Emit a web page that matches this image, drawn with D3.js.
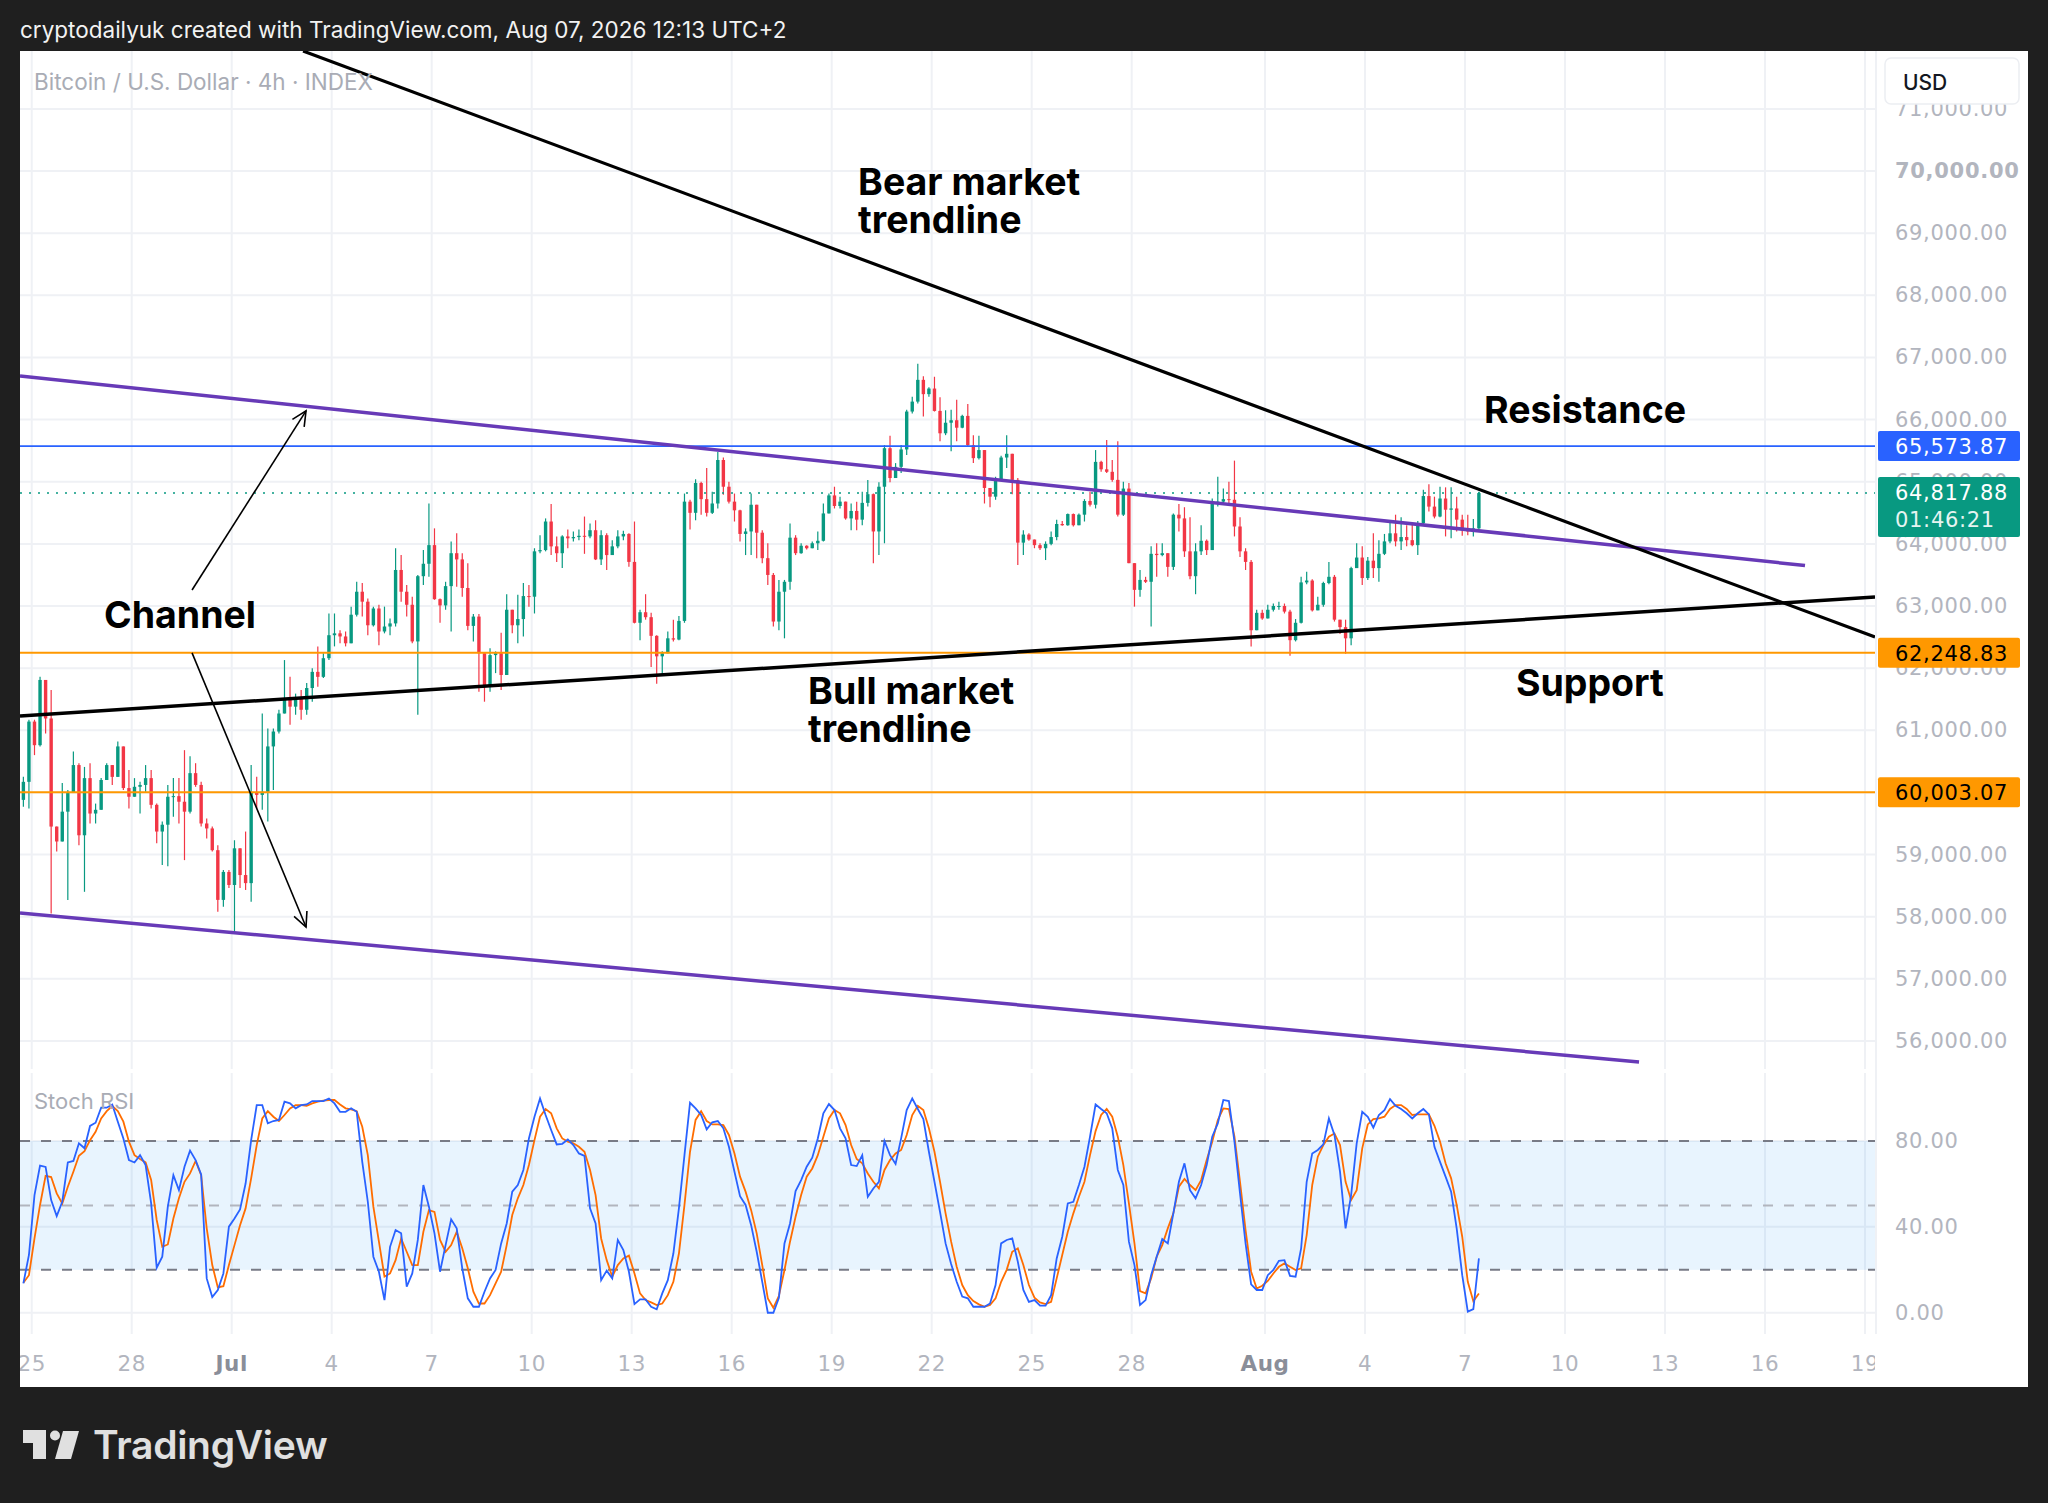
<!DOCTYPE html>
<html>
<head>
<meta charset="utf-8">
<script src="https://cdn.jsdelivr.net/npm/d3@7"></script>
<style>
  body { margin: 0; background: #1f1f1f; }
  svg { display: block; }
</style>
</head>
<body>
<svg id="chart" width="2048" height="1503"></svg>
<script>
// ---- data (4h candles, BTC/USD index) ----
var firstCandle = "2026-06-24T18:00";   // time of first bar, bars every 4 hours
var firstOpen = 59880;
var closes = [
  60170, 61140, 60760, 61810, 61190, 59450, 59210, 59690, 59990, 60440,
  59310, 60230, 59660, 59720, 60200, 60440, 60250, 60740, 60070, 59930,
  60090, 60120, 60230, 59800, 59370, 59480, 59930, 59940, 59850, 59690,
  60310, 60120, 59500, 59420, 59070, 58270, 58720, 58510, 59100, 58670,
  58540, 59990, 59960, 60010, 60740, 60980, 61270, 61490, 61380, 61510,
  61330, 61680, 61940, 61860, 62160, 62530, 62560, 62510, 62400, 62860,
  63230, 63070, 62690, 62960, 62590, 62670, 62720, 63580, 63230, 63020,
  62430, 63480, 63680, 63980, 63110, 63010, 63320, 63850, 63750, 63290,
  62680, 62830, 62240, 61700, 62210, 62240, 61890, 62940, 62690, 62790,
  63160, 63150, 63880, 63900, 64360, 63960, 63850, 64120, 64090, 64110,
  64130, 64120, 64220, 63750, 64140, 63820, 63960, 64120, 64160, 63710,
  62730, 62900, 62820, 62520, 62190, 62240, 62480, 62460, 62760, 64680,
  64500, 64980, 64720, 64500, 64650, 65350, 64920, 64680, 64540, 64160,
  64200, 64630, 64180, 63770, 63500, 62750, 63230, 63390, 64100, 63850,
  63970, 63930, 64010, 64050, 64490, 64780, 64610, 64680, 64410, 64530,
  64390, 64660, 64800, 64200, 64920, 65540, 65060, 65240, 65520, 66130,
  66290, 66640, 66410, 66500, 66140, 65780, 65950, 65990, 65870, 66060,
  65590, 65380, 65510, 64900, 64760, 65030, 65390, 65450, 65030, 64020,
  64150, 64070, 63980, 63930, 64000, 64110, 64320, 64300, 64480, 64300,
  64470, 64690, 64630, 65320, 65200, 65160, 65030, 64470, 64890, 63690,
  63260, 63420, 63390, 63840, 63820, 63850, 63630, 64470, 64410, 63880,
  63480, 63880, 64050, 63900, 64650, 64680, 64720, 64710, 64280, 63880,
  63710, 62610, 62890, 62800, 62940, 63000, 63000, 62910, 62450, 62730,
  63380, 63410, 62930, 63020, 63370, 63470, 62780, 62660, 62480, 63610,
  63780, 63450, 63730, 63610, 63840, 64040, 64170, 64040, 64110, 64060,
  63980, 64330, 64770, 64600, 64440, 64730, 64550, 64570, 64390, 64220,
  64200, 64250, 64817.88
];
var highs = [
  60250, 61170, 61170, 61860, 61810, 61650, 59450, 60150, 60040, 60660,
  60470, 60410, 60470, 59820, 60230, 60470, 60440, 60820, 60740, 60360,
  60230, 60170, 60440, 60360, 59820, 59530, 60120, 60230, 60230, 60680,
  60580, 60470, 60170, 59580, 59450, 59150, 58750, 58750, 59230, 59100,
  59370, 60440, 60250, 61270, 61030, 61030, 61330, 62130, 61860, 61590,
  61650, 61760, 62000, 62350, 62240, 62880, 62880, 62610, 62590, 62990,
  63390, 63370, 63120, 62990, 63020, 62990, 62800, 63930, 63820, 63340,
  63150, 63500, 63900, 64650, 64250, 63120, 63390, 64040, 64170, 63850,
  63690, 62870, 62870, 62240, 62320, 62270, 62570, 63190, 62940, 63180,
  63370, 63340, 63930, 64140, 64410, 64640, 64120, 64140, 64230, 64200,
  64230, 64440, 64330, 64380, 64220, 64170, 64060, 64220, 64210, 64170,
  64360, 62940, 63190, 62890, 62530, 62270, 62590, 62780, 62840, 64810,
  64710, 65040, 65000, 65220, 64840, 65480, 65390, 65000, 64810, 64550,
  64250, 64810, 64630, 64220, 64010, 63530, 63420, 63420, 64330, 64140,
  64010, 63980, 64040, 64200, 64650, 64810, 64920, 64760, 64680, 64650,
  64680, 64840, 65030, 64810, 64990, 65590, 65740, 65300, 65590, 66160,
  66370, 66900, 66700, 66520, 66690, 66360, 66150, 66160, 66320, 66080,
  66250, 65750, 65740, 65510, 64900, 65080, 65420, 65750, 65450, 65060,
  64220, 64170, 64060, 64010, 64040, 64200, 64390, 64370, 64490, 64490,
  64490, 64720, 64840, 65510, 65340, 65670, 65350, 65650, 65000, 64980,
  63690, 63580, 63470, 63960, 64010, 64010, 63850, 64490, 64640, 64590,
  64430, 64010, 64300, 64070, 64730, 65080, 64890, 65000, 65340, 64430,
  63930, 63740, 62940, 62940, 63020, 63040, 63070, 63040, 62940, 62790,
  63470, 63550, 63430, 63150, 63390, 63710, 63500, 62760, 62780, 63630,
  64010, 63960, 63790, 64170, 64060, 64160, 64340, 64470, 64430, 64300,
  64330, 64370, 64870, 64960, 64760, 64920, 64910, 64910, 64760, 64470,
  64470, 64400, 64840
];
var lows = [
  59770, 59740, 60600, 60740, 60950, 58050, 59050, 59210, 58270, 59990,
  59150, 58400, 59500, 59500, 59770, 60200, 60120, 60250, 60040, 59740,
  59930, 59660, 60010, 59740, 59180, 58830, 58810, 59610, 59500, 58910,
  59660, 60090, 59450, 59260, 59050, 58080, 58160, 58460, 57760, 58460,
  58430, 58240, 59740, 59720, 59530, 60040, 60950, 61270, 61090, 61250,
  61170, 61250, 61460, 61700, 61840, 62130, 62350, 62400, 62350, 62400,
  62830, 62830, 62530, 62670, 62370, 62560, 62530, 62670, 63070, 62830,
  62400, 61250, 63340, 63470, 63100, 62730, 62940, 62590, 63310, 63150,
  62610, 62430, 61620, 61460, 61620, 61920, 61650, 61890, 62560, 62400,
  62510, 62990, 62880, 63850, 63880, 63820, 63710, 63610, 63930, 64040,
  64060, 63840, 64090, 63740, 63660, 63580, 63820, 63930, 64060, 63630,
  62720, 62450, 62780, 62020, 61750, 61890, 62240, 62430, 62450, 62730,
  64230, 64380, 64470, 64440, 64480, 64570, 64790, 64650, 64360, 64040,
  63820, 63820, 63770, 63690, 63340, 62670, 62610, 62480, 63260, 63820,
  63840, 63910, 63950, 63900, 64040, 64490, 64570, 64570, 64390, 64220,
  64220, 64300, 64600, 63690, 63820, 64010, 64990, 65080, 65140, 65430,
  66100, 66260, 66050, 66370, 66130, 65650, 65750, 65490, 65650, 65860,
  65570, 65300, 65360, 64650, 64590, 64710, 65030, 65220, 64800, 63660,
  63820, 64050, 63930, 63900, 63740, 63980, 64060, 64290, 64290, 64280,
  64300, 64360, 64600, 64570, 65160, 65140, 65000, 64440, 64450, 63690,
  62990, 63150, 63370, 62670, 63470, 63800, 63470, 63580, 64200, 63790,
  63430, 63190, 63820, 63820, 63900, 64600, 64630, 64630, 64120, 63790,
  63580, 62350, 62630, 62780, 62800, 62910, 62940, 62880, 62200, 62430,
  62720, 63350, 62910, 62940, 62990, 63350, 62750, 62550, 62230, 62370,
  63610, 63340, 63420, 63450, 63390, 63820, 64010, 63960, 63900, 63960,
  63960, 63820, 64300, 64520, 64410, 64430, 64120, 64090, 64200, 64130,
  64140, 64120, 64220
];
// Stoch RSI %K (blue) and %D (orange), one value per bar
var stochK = [
  13.7, 26.9, 54.8, 68.5, 67.9, 52.5, 45.0, 51.7, 70.0, 70.7, 78.9, 76.6,
  87.0, 88.5, 95.5, 95.5, 97.0, 89.0, 81.2, 71.1, 70.0, 73.4,
  68.8, 50.9, 21.0, 26.1, 49.4, 64.1, 57.1, 68.0, 75.5, 71.1,
  64.4, 16.0, 7.3, 10.6, 18.3, 40.1, 43.9, 48.1, 60.2, 80.4,
  96.7, 96.7, 88.2, 89.3, 89.8, 98.3, 97.5, 95.2, 96.7, 97.0,
  98.6, 98.6, 98.6, 99.8, 97.5, 93.6, 93.6, 95.2, 93.6, 70.3,
  51.7, 26.1, 19.1, 5.9, 30.7, 38.5, 37.0, 12.1, 18.3, 33.9,
  59.5, 49.4, 37.0, 19.1, 31.5, 43.5, 39.3, 20.7, 6.7, 2.8,
  2.8, 9.8, 16.0, 19.9, 32.3, 41.6, 56.4, 59.5,
  66.5, 81.2, 91.3, 99.8, 92.1, 85.1, 78.4, 78.7, 80.7, 78.1, 74.2, 73.1,
  48.6, 41.6, 15.2, 19.6, 16.0, 33.9, 29.2, 19.1, 4.0, 6.2,
  6.2, 2.8, 1.6, 9.0, 15.2, 27.6, 48.6, 73.4, 97.8, 95.2,
  92.1, 85.4, 88.7, 89.3, 85.9, 77.3, 65.7, 54.3, 50.2, 40.8,
  28.4, 14.4, 0, 0, 7.0, 32.3, 41.6, 56.7, 61.8, 68.0,
  72.2, 81.2, 92.9, 97.2, 94.4, 85.9, 81.2, 68.8, 68.3, 73.4,
  54.0, 57.9, 61.0, 80.0, 73.4, 69.3, 81.2, 94.4, 99.8, 94.9,
  90.2, 75.0, 61.0, 47.0, 32.3, 22.7, 14.4, 7.5, 6.7, 2.8,
  2.8, 2.8, 4.3, 12.9, 32.3, 33.9,
  34.6, 23.8, 10.6, 5.1, 5.9, 3.3, 3.3, 8.2, 25.3, 35.4,
  50.9, 51.7, 59.5, 68.0, 82.0, 97.0, 94.9, 92.9, 85.9, 66.5,
  59.5, 33.1, 22.2, 3.6, 5.9, 17.5, 26.1, 34.3, 32.3, 46.3,
  61.0, 69.6, 57.1, 53.3, 59.5, 68.8, 82.0, 88.2, 99.1, 98.6,
  79.7, 55.6, 32.3, 13.2, 10.6, 10.6, 17.5, 19.9, 24.2, 24.5,
  17.2, 16.8, 30.0, 61.0, 74.2, 75.8, 78.4, 90.5, 82.8, 65.7,
  39.3, 54.8, 78.9, 93.6, 91.3, 86.2, 92.1, 94.4, 99.5, 96.4,
  94.9, 92.9, 90.5, 92.9, 94.9, 92.4, 77.3, 70.3, 63.4, 56.4,
  39.3, 17.5, 0.5, 1.7, 25.3
];
var stochD = [
  14.0, 17.5, 34.6, 50.2, 63.8, 63.2, 55.6, 50.9, 58.7, 65.7, 73.1, 75.3,
  80.4, 84.3, 90.5, 93.9, 96.3, 93.9, 89.0, 79.7, 73.4, 71.6,
  70.0, 61.8, 43.2, 30.7, 31.8, 43.9, 53.3, 61.0, 64.9, 70.7,
  64.1, 39.3, 22.2, 11.8, 12.4, 22.2, 31.5, 40.8, 48.6, 62.6,
  78.1, 90.5, 93.9, 91.3, 89.3, 92.1, 95.2, 96.7, 96.7, 96.4,
  97.5, 98.3, 98.8, 99.1, 99.1, 97.0, 95.2, 94.7, 93.9, 86.6,
  73.4, 49.4, 33.1, 16.8, 18.3, 24.5, 34.6, 28.4, 22.2, 22.2,
  37.7, 47.8, 47.0, 33.9, 28.4, 31.5, 37.7, 30.0, 20.7, 9.8,
  4.3, 4.3, 8.2, 13.7, 19.1, 31.5, 45.5, 53.3,
  59.5, 68.8, 80.4, 91.3, 94.9, 92.9, 85.9, 81.2, 79.7, 78.9, 77.3, 75.0,
  66.5, 54.8, 34.6, 24.5, 16.8, 22.2, 25.3, 26.6, 18.3, 9.0,
  5.9, 4.8, 3.6, 4.3, 8.2, 14.4, 27.6, 50.2, 75.0, 89.8,
  93.9, 89.3, 87.7, 87.7, 87.4, 82.8, 74.2, 63.4, 56.4, 47.8,
  37.0, 22.2, 6.7, 2.3, 7.9, 19.9, 33.1, 44.7, 54.8, 63.4,
  67.2, 73.4, 82.0, 90.5, 94.4, 92.9, 87.4, 78.1, 71.6, 69.6,
  64.9, 61.0, 57.9, 66.5, 71.1, 74.2, 75.8, 82.8, 92.1, 96.4,
  94.4, 85.9, 75.0, 61.0, 46.3, 33.1, 21.4, 12.9, 8.2, 5.4,
  3.9, 2.8, 3.6, 6.7, 14.4, 20.0,
  28.4, 30.0, 22.2, 12.9, 7.0, 4.8, 4.0, 5.1, 16.0, 26.9,
  37.7, 46.3, 54.0, 61.0, 73.4, 84.6, 92.1, 94.9, 91.3, 82.0,
  68.8, 50.9, 32.3, 10.1, 9.0, 16.0, 26.1, 31.5, 39.3, 46.3,
  58.7, 62.3, 59.5, 57.1, 61.8, 71.1, 79.7, 89.8, 95.2, 94.9,
  82.0, 61.0, 38.5, 19.1, 11.3, 12.6, 14.8, 18.3, 21.4, 23.0,
  21.4, 19.9, 20.7, 36.2, 59.5, 72.7, 78.1, 82.0, 83.5, 78.1,
  61.0, 52.5, 57.1, 76.6, 87.7, 90.2, 90.5, 91.3, 94.9, 96.7,
  96.7, 94.9, 92.1, 92.4, 92.4, 92.4, 87.1, 79.7, 69.6, 62.6,
  50.2, 35.4, 14.4, 5.4, 9.0
];

// axes
var viewWindow = ["2026-06-24T15:34", "2026-08-19T07:12"];
var priceDomain = [55516, 71933];
var stochDomain = [-9.9, 112.6];
var priceTicks = [56000, 57000, 58000, 59000, 60000, 61000, 62000, 63000,
                  64000, 65000, 66000, 67000, 68000, 69000, 70000, 71000];
var stochTicks = [0, 40, 80];
var stochBands = [20, 50, 80];
var dayTicks = ["2026-06-25", "2026-06-28", "2026-07-01", "2026-07-04", "2026-07-07",
                "2026-07-10", "2026-07-13", "2026-07-16", "2026-07-19", "2026-07-22",
                "2026-07-25", "2026-07-28", "2026-08-01", "2026-08-04", "2026-08-07",
                "2026-08-10", "2026-08-13", "2026-08-16", "2026-08-19"];
var dayLabels = ["25", "28", "Jul", "4", "7", "10", "13", "16", "19", "22",
                 "25", "28", "Aug", "4", "7", "10", "13", "16", "19"];

// drawings
var levelValues = [65573.87, 62248.83, 60003.07];
var levelColors = ["#2962ff", "#ff9800", "#ff9800"];
var lastPrice = 64817.88;
var countdown = "01:46:21";
var bearLine = [["2026-07-03T03:22", 71933], ["2026-08-19T07:12", 62501]];
var bullLine = [["2026-06-24T15:34", 61230], ["2026-08-19T07:12", 63145]];
var channelTop = [["2026-06-24T15:34", 66702], ["2026-08-17T04:48", 63652]];
var channelBottom = [["2026-06-24T15:34", 58060], ["2026-08-12T05:17", 55661]];
var arrowUp = [["2026-06-29T19:26", 63258], ["2026-07-03T05:31", 66140]];
var arrowDown = [["2026-06-29T19:26", 62245], ["2026-07-03T05:31", 57833]];
var noteText = [["Bear market", "trendline"], ["Resistance"], ["Support"], ["Bull market", "trendline"], ["Channel"]];
var noteAt = [["2026-07-19T19:00", 69840], ["2026-08-07T13:40", 66171], ["2026-08-08T12:40", 61777],
              ["2026-07-18T07:00", 61648], ["2026-06-27T04:00", 62873]];

// ---- drawing ----
var parse = d3.utcParse("%Y-%m-%dT%H:%M");
var parseDay = d3.utcParse("%Y-%m-%d");
var fmt = d3.format(",.2f");
var t0 = parse(firstCandle).getTime();
var barMs = 4 * 3600 * 1000;
function barTime(k) { return new Date(t0 + k * barMs); }

var PL = 20, PR = 1875, PT = 51, PB = 1071, SB = 1334;
var font = "Inter, 'Noto Sans', sans-serif";
var axisFont = "'DejaVu Sans', sans-serif";

var svg = d3.select("#chart");
var x = d3.scaleUtc().domain(viewWindow.map(parse)).range([PL, PR]);
var y = d3.scaleLinear().domain(priceDomain).range([PB, PT]);
var ys = d3.scaleLinear().domain(stochDomain).range([SB, PB]);

var defs = svg.append("defs");
defs.append("clipPath").attr("id", "clipPrice").append("rect")
  .attr("x", PL).attr("y", PT).attr("width", PR - PL).attr("height", PB - PT);
defs.append("clipPath").attr("id", "clipStoch").append("rect")
  .attr("x", PL).attr("y", PB).attr("width", PR - PL).attr("height", SB - PB);
defs.append("clipPath").attr("id", "clipTime").append("rect")
  .attr("x", PL).attr("y", SB).attr("width", PR - PL).attr("height", 60);

svg.append("rect").attr("width", 2048).attr("height", 1503).attr("fill", "#1f1f1f");
svg.append("rect").attr("x", 20).attr("y", 51).attr("width", 2008).attr("height", 1336).attr("fill", "#fff");

svg.append("text").attr("x", 20).attr("y", 29).attr("dominant-baseline", "central")
  .attr("font-family", font).attr("font-size", 22.5).attr("font-weight", 400).attr("fill", "#f2f2f2")
  .text("cryptodailyuk created with TradingView.com, Aug 07, 2026 12:13 UTC+2");

// grid
var grid = svg.append("g").attr("stroke", "#eff1f5").attr("stroke-width", 2);
grid.selectAll(".v").data(dayTicks).enter().append("line")
  .attr("x1", function(d) { return x(parseDay(d)); })
  .attr("x2", function(d) { return x(parseDay(d)); })
  .attr("y1", PT).attr("y2", SB);
grid.selectAll(".hp").data(priceTicks).enter().append("line")
  .attr("x1", PL).attr("x2", PR)
  .attr("y1", function(d) { return y(d); }).attr("y2", function(d) { return y(d); });
grid.selectAll(".hs").data(stochTicks).enter().append("line")
  .attr("x1", PL).attr("x2", PR)
  .attr("y1", function(d) { return ys(d); }).attr("y2", function(d) { return ys(d); });
svg.append("line").attr("x1", PL).attr("x2", PR).attr("y1", PB).attr("y2", PB)
  .attr("stroke", "#fff").attr("stroke-width", 4);
svg.append("line").attr("x1", PR + 1).attr("x2", PR + 1).attr("y1", PT).attr("y2", SB)
  .attr("stroke", "#eff1f5").attr("stroke-width", 2);

// stoch pane
var stoch = svg.append("g").attr("clip-path", "url(#clipStoch)");
stoch.append("rect").attr("x", PL).attr("width", PR - PL)
  .attr("y", ys(80)).attr("height", ys(20) - ys(80)).attr("fill", "#2196f3").attr("fill-opacity", 0.1);
stoch.selectAll(".band").data(stochBands).enter().append("line")
  .attr("x1", PL).attr("x2", PR)
  .attr("y1", function(d) { return ys(d); }).attr("y2", function(d) { return ys(d); })
  .attr("stroke", function(d) { return d === 50 ? "#b2b5be" : "#787b86"; })
  .attr("stroke-width", 2).attr("stroke-dasharray", "10,11");
var stochLine = d3.line()
  .x(function(d, k) { return x(barTime(k)); })
  .y(function(d) { return ys(d); });
stoch.append("path").datum(stochD).attr("d", stochLine)
  .attr("fill", "none").attr("stroke", "#ff6d00").attr("stroke-width", 1.8);
stoch.append("path").datum(stochK).attr("d", stochLine)
  .attr("fill", "none").attr("stroke", "#2962ff").attr("stroke-width", 1.8);

// candles
var bars = closes.map(function(c, k) {
  var o = k === 0 ? firstOpen : closes[k - 1];
  return { t: barTime(k), o: o, c: c, h: Math.max(highs[k], o, c), l: Math.min(lows[k], o, c) };
});
var price = svg.append("g").attr("clip-path", "url(#clipPrice)");
var bw = 3.4;
var candle = price.selectAll(".bar").data(bars).enter().append("g")
  .attr("fill", function(d) { return d.c >= d.o ? "#089981" : "#f23645"; })
  .attr("stroke", function(d) { return d.c >= d.o ? "#089981" : "#f23645"; });
candle.append("line")
  .attr("x1", function(d) { return x(d.t); }).attr("x2", function(d) { return x(d.t); })
  .attr("y1", function(d) { return y(d.h); }).attr("y2", function(d) { return y(d.l); })
  .attr("stroke-width", 1.2);
candle.append("rect")
  .attr("x", function(d) { return x(d.t) - bw / 2; }).attr("width", bw)
  .attr("y", function(d) { return y(Math.max(d.o, d.c)); })
  .attr("height", function(d) { return Math.max(1, Math.abs(y(d.o) - y(d.c))); })
  .attr("stroke", "none");

// horizontal levels
price.selectAll(".lvl").data(levelValues).enter().append("line")
  .attr("x1", PL).attr("x2", PR)
  .attr("y1", function(d) { return y(d); }).attr("y2", function(d) { return y(d); })
  .attr("stroke", function(d, k) { return levelColors[k]; })
  .attr("stroke-width", function(d, k) { return k === 0 ? 1.6 : 2; });
price.append("line").attr("x1", PL).attr("x2", PR)
  .attr("y1", y(lastPrice)).attr("y2", y(lastPrice))
  .attr("stroke", "#089981").attr("stroke-width", 1.6).attr("stroke-dasharray", "2,7");

// trendlines
var seg = d3.line().x(function(d) { return x(parse(d[0])); }).y(function(d) { return y(d[1]); });
[[channelTop, "#673ab7", 3.5], [channelBottom, "#673ab7", 3.5], [bearLine, "#000", 3.2], [bullLine, "#000", 3.5]]
  .forEach(function(s) {
    price.append("path").datum(s[0]).attr("d", seg)
      .attr("fill", "none").attr("stroke", s[1]).attr("stroke-width", s[2]);
  });

// arrows
[arrowUp, arrowDown].forEach(function(a) {
  var x0 = x(parse(a[0][0])), y0 = y(a[0][1]), x1 = x(parse(a[1][0])), y1 = y(a[1][1]);
  var ang = Math.atan2(y1 - y0, x1 - x0), L = 16, th = 0.45;
  price.append("line").attr("x1", x0).attr("y1", y0).attr("x2", x1).attr("y2", y1)
    .attr("stroke", "#000").attr("stroke-width", 1.6);
  price.append("polyline")
    .attr("points", [
      [x1 - L * Math.cos(ang - th), y1 - L * Math.sin(ang - th)],
      [x1, y1],
      [x1 - L * Math.cos(ang + th), y1 - L * Math.sin(ang + th)]
    ].join(" "))
    .attr("fill", "none").attr("stroke", "#000").attr("stroke-width", 1.6);
});

// notes
noteText.forEach(function(lines, k) {
  var t = price.append("text")
    .attr("x", x(parse(noteAt[k][0]))).attr("y", y(noteAt[k][1]))
    .attr("font-family", font).attr("font-size", 37.5).attr("font-weight", 700).attr("fill", "#000")
    .attr("dominant-baseline", "central");
  lines.forEach(function(s, j) {
    t.append("tspan").attr("x", x(parse(noteAt[k][0]))).attr("dy", j === 0 ? 0 : 38).text(s);
  });
});

// pane titles
svg.append("text").attr("x", 34).attr("y", 81).attr("dominant-baseline", "central")
  .attr("font-family", font).attr("font-size", 22.5).attr("fill", "#a9acb5")
  .text("Bitcoin / U.S. Dollar · 4h · INDEX");
svg.append("text").attr("x", 34).attr("y", 1101).attr("dominant-baseline", "central")
  .attr("font-family", font).attr("font-size", 22).attr("fill", "#a9acb5")
  .text("Stoch RSI");

// price axis
var axisX = 1895;
svg.selectAll(".pt").data(priceTicks).enter().append("text")
  .attr("x", axisX).attr("y", function(d) { return y(d); })
  .attr("dominant-baseline", "central")
  .attr("font-family", axisFont).attr("font-size", 21).attr("letter-spacing", 0.7)
  .attr("font-weight", function(d) { return d === 70000 ? 700 : 400; })
  .attr("fill", "#b2b5be").text(fmt);
svg.selectAll(".st").data(stochTicks).enter().append("text")
  .attr("x", axisX).attr("y", function(d) { return ys(d); })
  .attr("dominant-baseline", "central")
  .attr("font-family", axisFont).attr("font-size", 21).attr("letter-spacing", 0.7)
  .attr("fill", "#b2b5be").text(fmt);

// USD box
svg.append("rect").attr("x", 1885).attr("y", 58).attr("width", 134).attr("height", 46).attr("rx", 6)
  .attr("fill", "#fff").attr("stroke", "#eceef2").attr("stroke-width", 1.5);
svg.append("text").attr("x", 1903).attr("y", 82).attr("dominant-baseline", "central")
  .attr("font-family", font).attr("font-size", 21).attr("font-weight", 500).attr("fill", "#131722").text("USD");

// price tags
var tagX = 1878, tagW = 142, tagH = 30;
levelValues.forEach(function(v, k) {
  svg.append("rect").attr("x", tagX).attr("y", y(v) - tagH / 2).attr("width", tagW).attr("height", tagH)
    .attr("rx", 2).attr("fill", levelColors[k]);
  svg.append("text").attr("x", axisX).attr("y", y(v) + 1).attr("dominant-baseline", "central")
    .attr("font-family", axisFont).attr("font-size", 21).attr("letter-spacing", 0.7)
    .attr("fill", k === 0 ? "#fff" : "#000").text(fmt(v));
});
svg.append("rect").attr("x", tagX).attr("y", y(lastPrice) - 16).attr("width", tagW).attr("height", 60)
  .attr("rx", 2).attr("fill", "#089981");
svg.append("text").attr("x", axisX).attr("y", y(lastPrice)).attr("dominant-baseline", "central")
  .attr("font-family", axisFont).attr("font-size", 21).attr("letter-spacing", 0.7)
  .attr("fill", "#fff").text(fmt(lastPrice));
svg.append("text").attr("x", axisX).attr("y", y(lastPrice) + 27).attr("dominant-baseline", "central")
  .attr("font-family", axisFont).attr("font-size", 21).attr("letter-spacing", 0.7)
  .attr("fill", "#e6f4f1").text(countdown);

// time axis
svg.append("g").attr("clip-path", "url(#clipTime)")
  .selectAll("text").data(dayTicks).enter().append("text")
  .attr("x", function(d) { return x(parseDay(d)); }).attr("y", 1363)
  .attr("text-anchor", "middle").attr("dominant-baseline", "central")
  .attr("font-family", axisFont).attr("font-size", 21.5).attr("letter-spacing", 0.5)
  .attr("font-weight", function(d, k) { return isNaN(+dayLabels[k]) ? 700 : 400; })
  .attr("fill", function(d, k) { return isNaN(+dayLabels[k]) ? "#8a8e99" : "#b2b5be"; })
  .text(function(d, k) { return dayLabels[k]; });

// footer logo
var logo = svg.append("g").attr("fill", "#e0e0e0");
logo.append("path").attr("d", "M23,1430 H46 V1459 H33 V1443 H23 Z");
logo.append("circle").attr("cx", 55).attr("cy", 1435.5).attr("r", 5);
logo.append("path").attr("d", "M63,1431 H79 L71,1459 H55 Z");
logo.append("text").attr("x", 93).attr("y", 1459)
  .attr("font-family", font).attr("font-size", 39).attr("font-weight", 600).attr("letter-spacing", -0.3)
  .text("TradingView");
</script>
</body>
</html>
